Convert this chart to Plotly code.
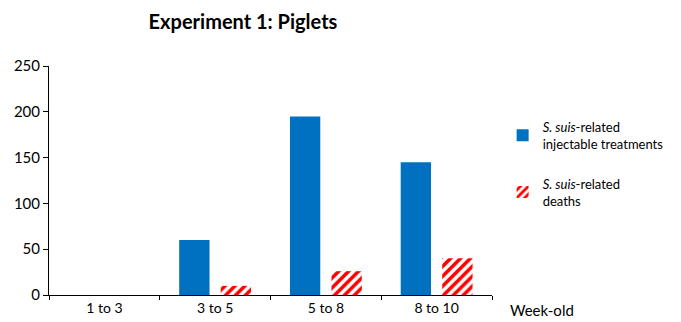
import plotly.graph_objects as go

categories = ["1 to 3", "3 to 5", "5 to 8", "8 to 10"]
treatments = [0, 60, 195, 145]
deaths = [0, 10, 26, 40]
series_names = ["<i>S. suis</i>-related<br>injectable treatments", "<i>S. suis</i>-related<br>deaths"]
y_ticks = [0, 50, 100, 150, 200, 250]

FONT = "Lato, Carlito, 'Liberation Sans', sans-serif"

fig = go.Figure()
fig.add_trace(go.Bar(x=categories, y=treatments, name=series_names[0], legendgroup="a",
                     marker=dict(color="#0070C0", line=dict(width=0))))
fig.add_trace(go.Bar(x=categories, y=deaths, name=series_names[1], legendgroup="b",
                     marker=dict(color="white", line=dict(width=0),
                                 pattern=dict(shape="/", fgcolor="#FF0000", bgcolor="white",
                                              size=7, solidity=0.5, fgopacity=1,
                                              fillmode="replace"))))

fig.update_layout(
    width=681, height=322,
    margin=dict(l=49, r=185, t=66, b=27),
    paper_bgcolor="white", plot_bgcolor="white",
    font=dict(family=FONT, size=13, color="black"),
    title=dict(text="<b>Experiment 1: Piglets</b>", x=243/681, xanchor="center",
               y=1 - 22/322, yanchor="middle", font=dict(size=20, family=FONT)),
    barmode="group", bargap=0.25, bargroupgap=0.27,
    showlegend=True,
    legend=dict(x=1.024, xanchor="left", y=0.80, yanchor="top",
                font=dict(size=13, family=FONT), tracegroupgap=20,
                bgcolor="rgba(0,0,0,0)"),
)
fig.update_xaxes(showline=True, linecolor="black", linewidth=1, ticks="outside",
                 tickson="boundaries", ticklen=4, tickcolor="black", showgrid=False,
                 tickfont=dict(size=14), automargin=False)
fig.update_yaxes(range=[0, 250], tickvals=y_ticks, showline=True, linecolor="black",
                 linewidth=1, ticks="outside", ticklen=5, tickcolor="black", showgrid=False,
                 zeroline=False, tickfont=dict(size=15), automargin=False)
fig.add_annotation(text="Week-old", xref="paper", yref="paper", x=1.035, y=-0.065,
                   xanchor="left", yanchor="middle", showarrow=False, font=dict(size=15))

fig.write_html("out.html")
